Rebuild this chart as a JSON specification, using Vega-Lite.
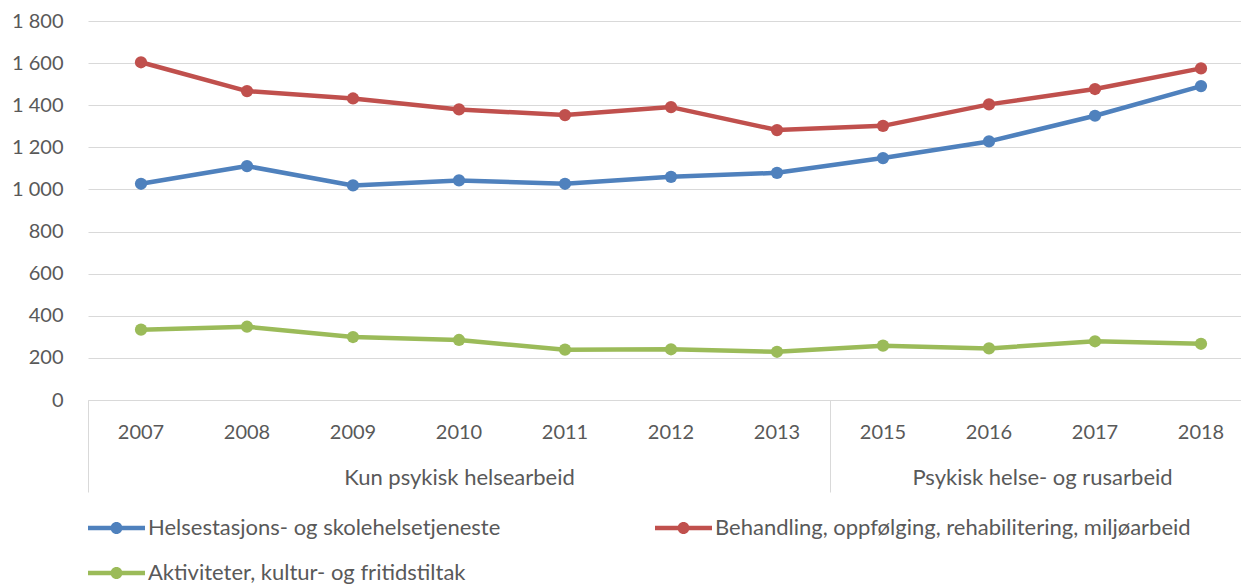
{
  "$schema": "https://vega.github.io/schema/vega-lite/v6.json",
  "width": 1153,
  "height": 379,
  "padding": {"top": 11, "left": 11, "right": 0, "bottom": 0},
  "autosize": {"type": "pad"},
  "data": {
    "values": [
      {"year": "2007", "series": "Helsestasjons- og skolehelsetjeneste", "value": 1027},
      {"year": "2008", "series": "Helsestasjons- og skolehelsetjeneste", "value": 1111},
      {"year": "2009", "series": "Helsestasjons- og skolehelsetjeneste", "value": 1019},
      {"year": "2010", "series": "Helsestasjons- og skolehelsetjeneste", "value": 1043},
      {"year": "2011", "series": "Helsestasjons- og skolehelsetjeneste", "value": 1027},
      {"year": "2012", "series": "Helsestasjons- og skolehelsetjeneste", "value": 1060},
      {"year": "2013", "series": "Helsestasjons- og skolehelsetjeneste", "value": 1079},
      {"year": "2015", "series": "Helsestasjons- og skolehelsetjeneste", "value": 1149},
      {"year": "2016", "series": "Helsestasjons- og skolehelsetjeneste", "value": 1228},
      {"year": "2017", "series": "Helsestasjons- og skolehelsetjeneste", "value": 1350},
      {"year": "2018", "series": "Helsestasjons- og skolehelsetjeneste", "value": 1491},
      {"year": "2007", "series": "Behandling, oppfølging, rehabilitering, miljøarbeid", "value": 1604},
      {"year": "2008", "series": "Behandling, oppfølging, rehabilitering, miljøarbeid", "value": 1467},
      {"year": "2009", "series": "Behandling, oppfølging, rehabilitering, miljøarbeid", "value": 1432},
      {"year": "2010", "series": "Behandling, oppfølging, rehabilitering, miljøarbeid", "value": 1380},
      {"year": "2011", "series": "Behandling, oppfølging, rehabilitering, miljøarbeid", "value": 1353},
      {"year": "2012", "series": "Behandling, oppfølging, rehabilitering, miljøarbeid", "value": 1391},
      {"year": "2013", "series": "Behandling, oppfølging, rehabilitering, miljøarbeid", "value": 1282},
      {"year": "2015", "series": "Behandling, oppfølging, rehabilitering, miljøarbeid", "value": 1302},
      {"year": "2016", "series": "Behandling, oppfølging, rehabilitering, miljøarbeid", "value": 1404},
      {"year": "2017", "series": "Behandling, oppfølging, rehabilitering, miljøarbeid", "value": 1477},
      {"year": "2018", "series": "Behandling, oppfølging, rehabilitering, miljøarbeid", "value": 1575},
      {"year": "2007", "series": "Aktiviteter, kultur- og fritidstiltak", "value": 334},
      {"year": "2008", "series": "Aktiviteter, kultur- og fritidstiltak", "value": 348},
      {"year": "2009", "series": "Aktiviteter, kultur- og fritidstiltak", "value": 299},
      {"year": "2010", "series": "Aktiviteter, kultur- og fritidstiltak", "value": 285},
      {"year": "2011", "series": "Aktiviteter, kultur- og fritidstiltak", "value": 239},
      {"year": "2012", "series": "Aktiviteter, kultur- og fritidstiltak", "value": 241},
      {"year": "2013", "series": "Aktiviteter, kultur- og fritidstiltak", "value": 229},
      {"year": "2015", "series": "Aktiviteter, kultur- og fritidstiltak", "value": 258},
      {"year": "2016", "series": "Aktiviteter, kultur- og fritidstiltak", "value": 245},
      {"year": "2017", "series": "Aktiviteter, kultur- og fritidstiltak", "value": 279},
      {"year": "2018", "series": "Aktiviteter, kultur- og fritidstiltak", "value": 267}
    ]
  },
  "encoding": {
    "y": {
      "field": "value", "type": "quantitative",
      "scale": {"domain": [0, 1800]},
      "axis": {
        "values": [0, 200, 400, 600, 800, 1000, 1200, 1400, 1600, 1800],
        "labelExpr": "replace(format(datum.value, ','), ',', ' ')",
        "domain": false, "ticks": false, "labelPadding": 25, "labelFontSize": 20,
        "labelColor": "#595959", "gridColor": "#d9d9d9", "gridWidth": 1, "title": null
      }
    },
    "color": {
      "field": "series", "type": "nominal",
      "scale": {
        "domain": ["Helsestasjons- og skolehelsetjeneste", "Behandling, oppfølging, rehabilitering, miljøarbeid", "Aktiviteter, kultur- og fritidstiltak"],
        "range": ["#4f81bd", "#c0504d", "#9bbb59"]
      },
      "legend": {
        "orient": "none", "legendX": 13.5, "legendY": 492, "columns": 2, "direction": "horizontal",
        "columnPadding": 154, "rowPadding": 19,
        "symbolType": "M-1.9,-0.15L1.9,-0.15L1.9,0.15L-1.9,0.15Z M0.4,0A0.4,0.4,0,1,1,-0.4,0A0.4,0.4,0,1,1,0.4,0Z",
        "symbolSize": 900, "symbolStrokeWidth": 0, "symbolOpacity": 1,
        "labelFontSize": 22, "labelColor": "#595959", "labelOffset": 16.5, "labelLimit": 0, "title": null
      }
    }
  },
  "layer": [
    {
      "mark": {"type": "line", "strokeWidth": 4.5, "strokeJoin": "round", "strokeCap": "round"},
      "encoding": {
        "x": {
          "field": "year", "type": "ordinal",
          "scale": {"type": "band", "range": [0, 1166], "paddingInner": 0, "paddingOuter": 0},
          "axis": {
            "orient": "bottom", "domainColor": "#d9d9d9", "domainWidth": 1, "ticks": false,
            "labelFontSize": 20, "labelColor": "#595959", "labelPadding": 22, "labelAngle": 0, "grid": false,
            "title": "Kun psykisk helsearbeid", "titleX": 371, "titleY": 77, "titleAlign": "center",
            "titleBaseline": "middle", "titleFontWeight": "normal", "titleFontSize": 22, "titleColor": "#595959"
          }
        }
      }
    },
    {
      "mark": {"type": "point", "filled": true, "size": 150, "opacity": 1},
      "encoding": {
        "x": {
          "field": "year", "type": "ordinal",
          "axis": {
            "orient": "bottom", "values": ["2007", "2015"], "bandPosition": 0, "labels": false,
            "domain": false, "grid": false, "ticks": true, "tickSize": 92, "tickColor": "#d9d9d9", "tickWidth": 1,
            "title": "Psykisk helse- og rusarbeid", "titleX": 954, "titleY": 77, "titleAlign": "center",
            "titleBaseline": "middle", "titleFontWeight": "normal", "titleFontSize": 22, "titleColor": "#595959"
          }
        }
      }
    }
  ],
  "resolve": {"axis": {"x": "independent"}},
  "config": {"view": {"stroke": null}, "font": "Lato"}
}
